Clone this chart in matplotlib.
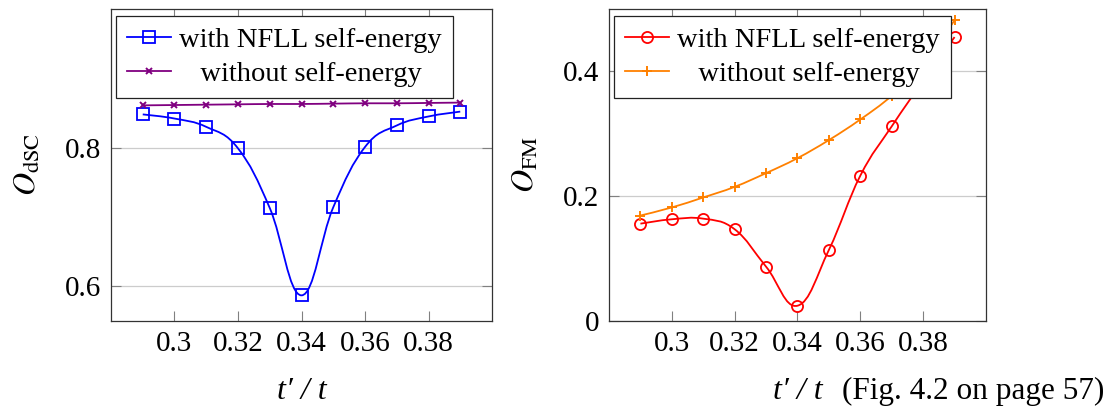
import numpy as np
import matplotlib
matplotlib.use('Agg')
import matplotlib.pyplot as plt
from matplotlib.path import Path
from matplotlib.patches import PathPatch
from matplotlib.lines import Line2D

# hopping ratio t'/t
tt = [0.29, 0.30, 0.31, 0.32, 0.33, 0.34, 0.35, 0.36, 0.37, 0.38, 0.39]

# d-wave SC order parameter
dsc_nfll = [0.848, 0.842, 0.830, 0.799, 0.713, 0.587, 0.714, 0.801, 0.832, 0.845, 0.852]
dsc_bare = [0.861, 0.8615, 0.862, 0.8625, 0.863, 0.863, 0.8635, 0.864, 0.864, 0.8645, 0.865]

# ferromagnetic order parameter
fm_nfll = [0.156, 0.163, 0.164, 0.147, 0.087, 0.0245, 0.114, 0.233, 0.312, 0.385, 0.455]
fm_bare = [0.169, 0.182, 0.198, 0.215, 0.237, 0.261, 0.290, 0.323, 0.361, 0.410, 0.482]

x_ticks = [0.30, 0.32, 0.34, 0.36, 0.38]
x_ticklabels = ['0.3', '0.32', '0.34', '0.36', '0.38']
dsc_ticks = [0.6, 0.8]
dsc_ticklabels = ['0.6', '0.8']
fm_ticks = [0.0, 0.2, 0.4]
fm_ticklabels = ['0', '0.2', '0.4']

plt.rcParams['font.family'] = ['Liberation Serif', 'DejaVu Serif']
plt.rcParams['mathtext.fontset'] = 'stix'

FS = 21


def smooth_path(x, y, tension=0.2):
    # cubic bezier through every point, tangents from the neighbours
    x = np.asarray(x, float)
    y = np.asarray(y, float)
    n = len(x)
    verts = [(x[0], y[0])]
    codes = [Path.MOVETO]
    for i in range(n - 1):
        i0 = max(i - 1, 0)
        i3 = min(i + 2, n - 1)
        c1 = (x[i] + tension * (x[i + 1] - x[i0]), y[i] + tension * (y[i + 1] - y[i0]))
        c2 = (x[i + 1] - tension * (x[i3] - x[i]), y[i + 1] - tension * (y[i3] - y[i]))
        verts += [c1, c2, (x[i + 1], y[i + 1])]
        codes += [Path.CURVE4] * 3
    return Path(verts, codes)


def draw_series(ax, x, y, color, marker, ms, mew):
    ax.add_patch(PathPatch(smooth_path(x, y), fill=False, edgecolor=color,
                           lw=1.3, zorder=3))
    ax.plot(x, y, linestyle='none', marker=marker, ms=ms, mfc='none',
            mec=color, mew=mew, zorder=4)
    return Line2D([], [], color=color, lw=1.3, marker=marker, ms=ms,
                  mfc='none', mec=color, mew=mew)


def style_axes(ax, yticks, yticklabels, ylim, ylabel):
    ax.set_xlim(0.28, 0.40)
    ax.set_ylim(*ylim)
    ax.set_xticks(x_ticks)
    ax.set_xticklabels(x_ticklabels)
    ax.set_yticks(yticks)
    ax.set_yticklabels(yticklabels)
    ax.tick_params(direction='in', length=7.5, width=0.8, color='#808080',
                   top=True, right=True, labelsize=FS, pad=7)
    for s in ax.spines.values():
        s.set_color('#333333')
        s.set_linewidth(0.9)
    ax.yaxis.grid(True, color='#cccccc', lw=0.9)
    ax.set_axisbelow(True)
    ax.set_xlabel('t\u2032 / t', fontsize=23, fontstyle='italic')
    ax.xaxis.set_label_coords(0.5, -0.18)
    ax.set_ylabel(ylabel, fontsize=23)
    ax.yaxis.set_label_coords(-0.18, 0.5)


def add_legend(ax, handles, labels):
    leg = ax.legend(handles, labels, loc='upper left',
                    bbox_to_anchor=(0.012, 0.978), borderaxespad=0,
                    fontsize=20.5, frameon=True, fancybox=False, framealpha=1,
                    edgecolor='#222222', handlelength=1.55, handletextpad=0.28,
                    borderpad=0.4, labelspacing=0.28)
    leg.get_frame().set_linewidth(0.9)
    leg.set_zorder(10)


fig = plt.figure(figsize=(11.17, 4.08), dpi=100)
ax1 = fig.add_axes([0.09937, 0.21324, 0.34110, 0.76471])
ax2 = fig.add_axes([0.54521, 0.21324, 0.33751, 0.76471])

h1 = draw_series(ax1, tt, dsc_nfll, '#0000ff', 's', 8.0, 1.3)
h2 = draw_series(ax1, tt, dsc_bare, '#800080', 'x', 5.0, 1.4)
style_axes(ax1, dsc_ticks, dsc_ticklabels, (0.55, 1.0), r"$O_{\mathrm{dSC}}$")
add_legend(ax1, [h1, h2], ['with NFLL self-energy', '   without self-energy'])

h3 = draw_series(ax2, tt, fm_nfll, '#ff0000', 'o', 8.0, 1.3)
h4 = draw_series(ax2, tt, fm_bare, '#ff8000', '+', 7.5, 1.4)
style_axes(ax2, fm_ticks, fm_ticklabels, (0.0, 0.5), r"$O_{\mathrm{FM}}$")
add_legend(ax2, [h3, h4], ['with NFLL self-energy', '   without self-energy'])

fig.text(842 / 1117, 0.022, '(Fig. 4.2 on page 57)', fontsize=22.5,
         ha='left', va='baseline')

fig.savefig('out.png', dpi=100)
